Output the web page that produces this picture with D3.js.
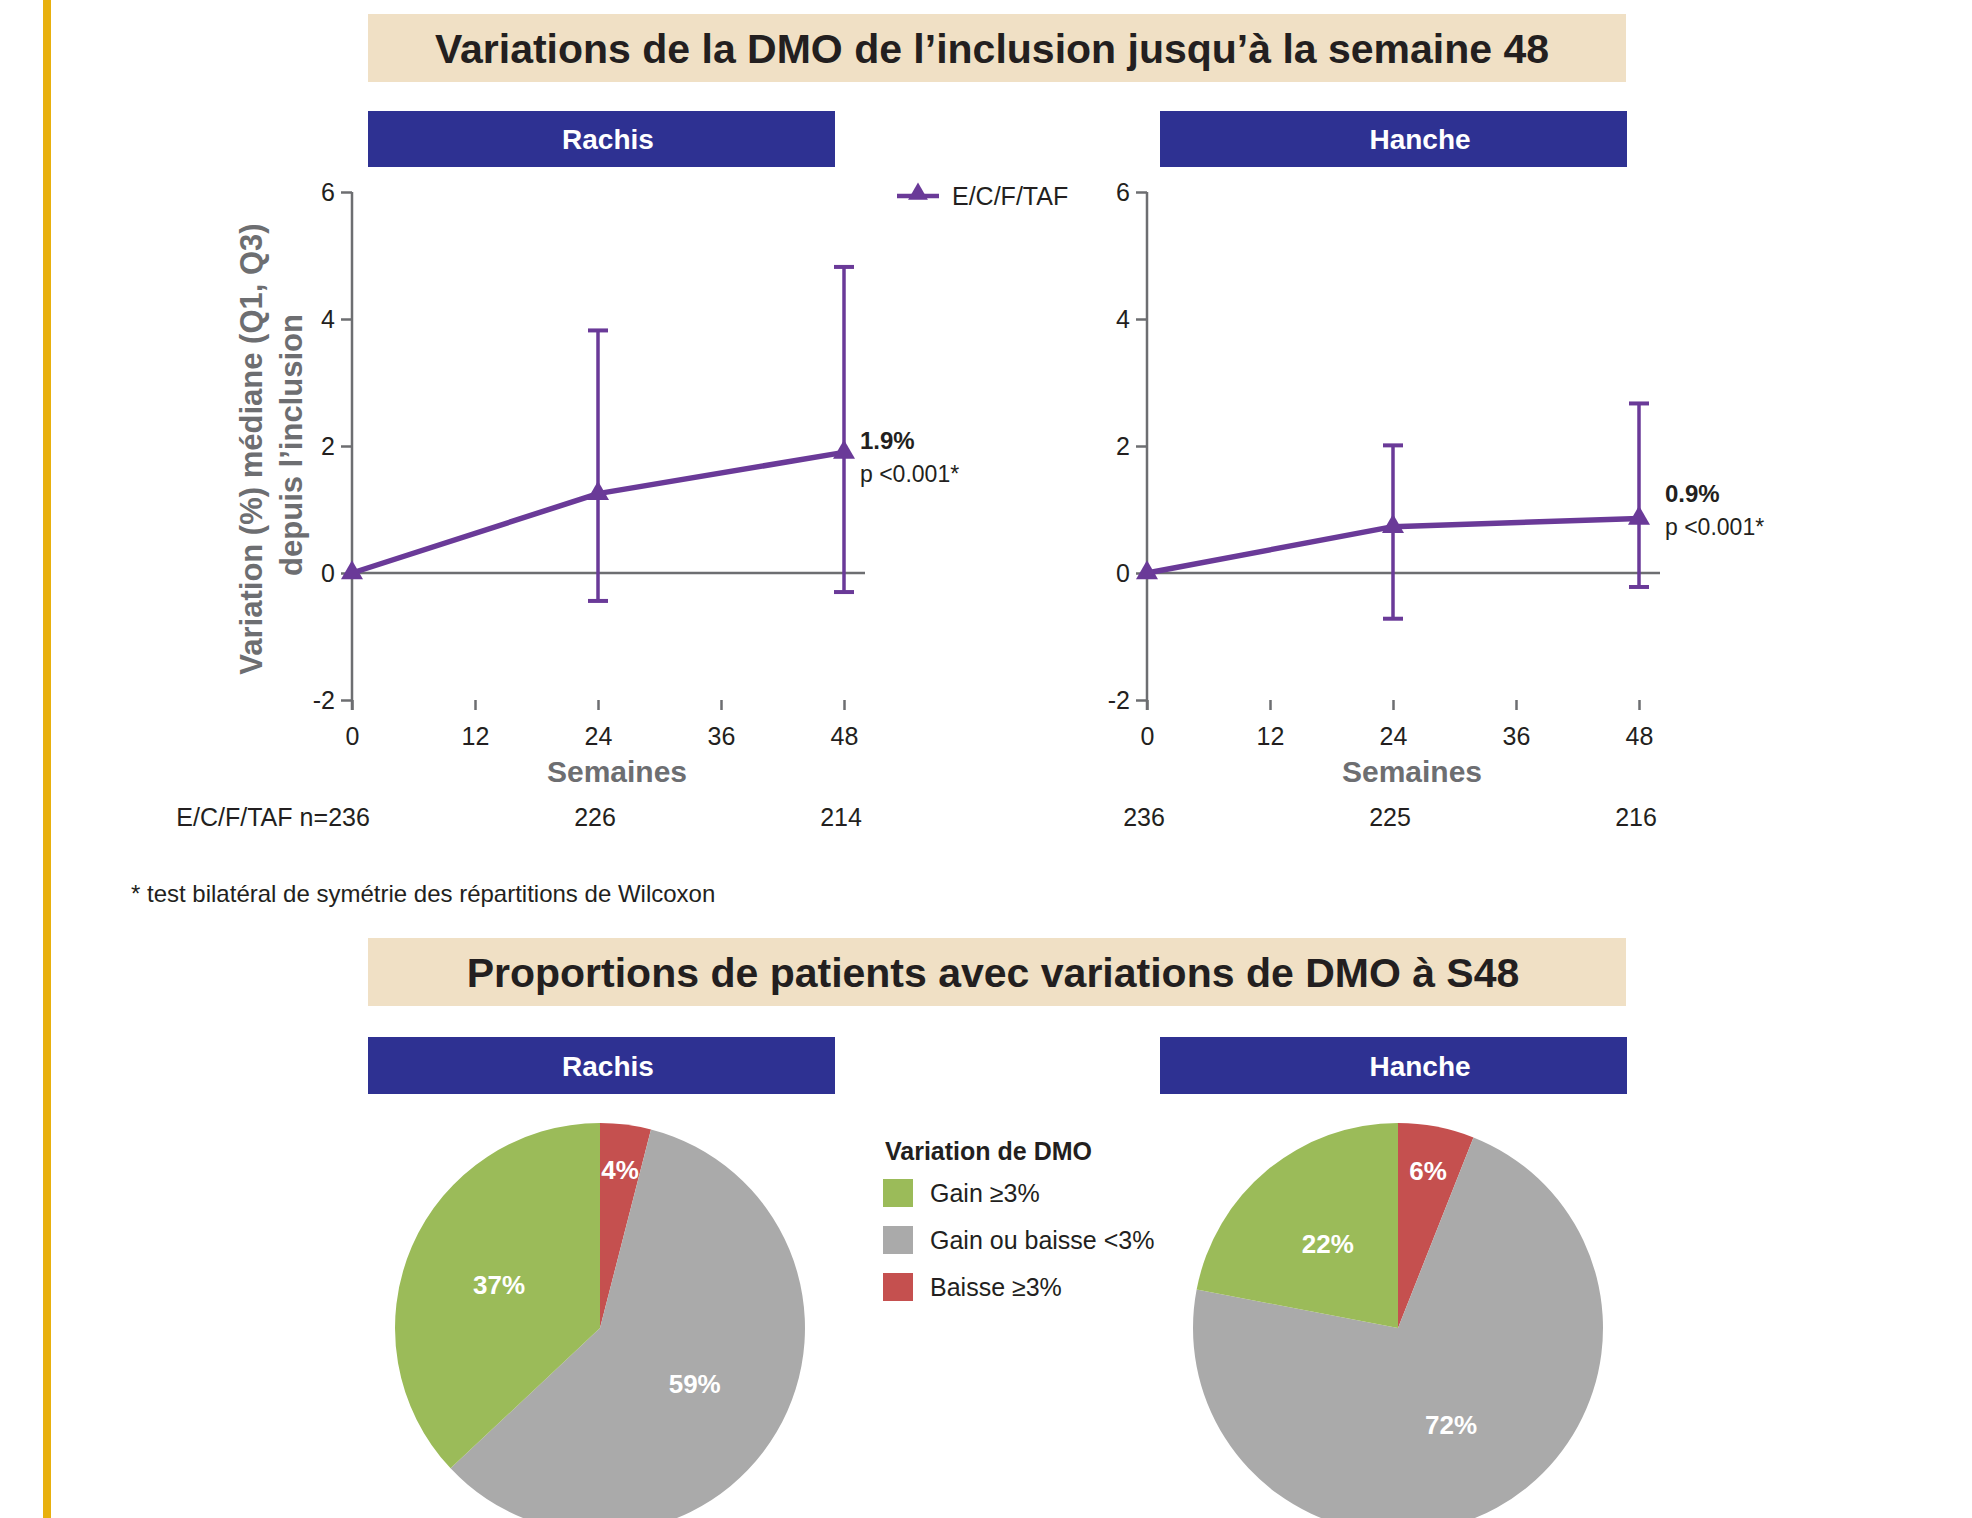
<!DOCTYPE html>
<html>
<head>
<meta charset="utf-8">
<script src="https://cdn.jsdelivr.net/npm/d3@7"></script>
<style>
  body { margin: 0; background: #fff; }
  svg { display: block; }
</style>
</head>
<body>
<div id="chart"></div>
<script>
// values
const weeks = [0, 24, 48];
const xTicks = [0, 12, 24, 36, 48];
const yTicks = [-2, 0, 2, 4, 6];

const spineMedian = [0, 1.25, 1.9];
const spineQ1 = [0, -0.44, -0.30];
const spineQ3 = [0, 3.82, 4.82];
const spineN = [236, 226, 214];

const hipMedian = [0, 0.73, 0.86];
const hipQ1 = [0, -0.72, -0.22];
const hipQ3 = [0, 2.01, 2.67];
const hipN = [236, 225, 216];

const pieCategories = ["Gain ≥3%", "Gain ou baisse <3%", "Baisse ≥3%"];
const pieColors = ["#9bbb59", "#aaaaaa", "#c5504f"];
const spinePie = [37, 59, 4];
const hipPie = [22, 72, 6];

const FONT = '"Liberation Sans", Arial, Helvetica, sans-serif';
const PURPLE = "#6a3a98", GREY = "#6d6e71", INK = "#231f20", NAVY = "#2e3192", BEIGE = "#f0e0c5";

const svg = d3.select("#chart").append("svg")
    .attr("width", 1972)
    .attr("height", 1518)
    .attr("font-family", FONT);

svg.append("rect").attr("width", 1972).attr("height", 1518).attr("fill", "#fff");
// yellow page rule on the left
svg.append("rect").attr("x", 43).attr("y", 0).attr("width", 8).attr("height", 1518).attr("fill", "#e8b00e");

// 1. Banners (section titles and panel headers)
function banner(x, y, w, h, fill, label, tx, size, color) {
    svg.append("rect").attr("x", x).attr("y", y).attr("width", w).attr("height", h).attr("fill", fill);
    svg.append("text")
        .attr("x", tx).attr("y", y + h / 2)
        .attr("dy", "0.36em")
        .attr("text-anchor", "middle")
        .attr("font-size", size)
        .attr("font-weight", "bold")
        .attr("fill", color)
        .text(label);
}

banner(368, 14, 1258, 68, BEIGE, "Variations de la DMO de l’inclusion jusqu’à la semaine 48", 992, 41, INK);
banner(368, 111, 467, 56, NAVY, "Rachis", 608, 28, "#fff");
banner(1160, 111, 467, 56, NAVY, "Hanche", 1420, 28, "#fff");
banner(368, 938, 1258, 68, BEIGE, "Proportions de patients avec variations de DMO à S48", 993, 41, INK);
banner(368, 1037, 467, 57, NAVY, "Rachis", 608, 28, "#fff");
banner(1160, 1037, 467, 57, NAVY, "Hanche", 1420, 28, "#fff");

// 2. Line charts with Q1-Q3 whiskers
function drawLineChart(x0, x1, median, q1, q3, nCounts, opts) {
    const x = d3.scaleLinear().domain([0, 48]).range([x0, x1]);
    const y = d3.scaleLinear().domain([-2, 6]).range([700, 192]);
    const g = svg.append("g");

    // y axis: ticks to the left, spine runs a bit below -2
    const yAxis = g.append("g")
        .attr("transform", `translate(${x0},0)`)
        .call(d3.axisLeft(y).tickValues(yTicks).tickSize(11).tickPadding(6).tickFormat(d => String(d)))
        .attr("font-family", FONT);
    yAxis.select(".domain").remove();
    yAxis.selectAll("line").attr("stroke", GREY).attr("stroke-width", 2.5);
    yAxis.selectAll("text").attr("font-size", 25).attr("fill", INK);

    g.append("line")
        .attr("x1", x0).attr("x2", x0)
        .attr("y1", y(6)).attr("y2", y(-2) + 10)
        .attr("stroke", GREY).attr("stroke-width", 2.5);

    // x axis: only small marks under the plot, no baseline
    const xAxis = g.append("g")
        .attr("transform", `translate(0,${y(-2)})`)
        .call(d3.axisBottom(x).tickValues(xTicks).tickSize(10).tickPadding(17))
        .attr("font-family", FONT);
    xAxis.select(".domain").remove();
    xAxis.selectAll("line").attr("stroke", GREY).attr("stroke-width", 2.5);
    xAxis.selectAll("text").attr("font-size", 25).attr("fill", INK);

    // zero reference line
    g.append("line")
        .attr("x1", x0).attr("x2", x1 + 21)
        .attr("y1", y(0)).attr("y2", y(0))
        .attr("stroke", GREY).attr("stroke-width", 2.5);

    const pts = weeks.map((w, i) => ({ w, m: median[i], lo: q1[i], hi: q3[i] }));
    const bars = pts.filter(d => d.hi !== d.lo);

    // whiskers
    g.selectAll(".whisker").data(bars).enter().append("line")
        .attr("x1", d => x(d.w)).attr("x2", d => x(d.w))
        .attr("y1", d => y(d.lo)).attr("y2", d => y(d.hi))
        .attr("stroke", PURPLE).attr("stroke-width", 3.5);
    [d => d.lo, d => d.hi].forEach(acc => {
        g.selectAll(null).data(bars).enter().append("line")
            .attr("x1", d => x(d.w) - 10).attr("x2", d => x(d.w) + 10)
            .attr("y1", d => y(acc(d))).attr("y2", d => y(acc(d)))
            .attr("stroke", PURPLE).attr("stroke-width", 4);
    });

    // median line
    g.append("path")
        .datum(pts)
        .attr("fill", "none")
        .attr("stroke", PURPLE)
        .attr("stroke-width", 5.5)
        .attr("stroke-linejoin", "round")
        .attr("d", d3.line().x(d => x(d.w)).y(d => y(d.m)));

    g.selectAll(".marker").data(pts).enter().append("path")
        .attr("transform", d => `translate(${x(d.w)},${y(d.m)})`)
        .attr("d", d3.symbol(d3.symbolTriangle, 210))
        .attr("fill", PURPLE);

    // end-point annotation
    const last = pts[pts.length - 1];
    const ax = x(last.w) + opts.annoDx, ay = y(last.m) + opts.annoDy;
    g.append("text")
        .attr("x", ax).attr("y", ay).attr("dy", "0.36em")
        .attr("font-size", 24).attr("font-weight", "bold").attr("fill", INK)
        .text(d3.format(".1f")(last.m) + "%");
    g.append("text")
        .attr("x", ax).attr("y", ay + 33).attr("dy", "0.36em")
        .attr("font-size", 23).attr("fill", INK)
        .text("p <0.001*");

    // x title
    g.append("text")
        .attr("x", (x0 + x1) / 2 + 19).attr("y", 771).attr("dy", "0.36em")
        .attr("text-anchor", "middle")
        .attr("font-size", 30).attr("font-weight", "bold").attr("fill", GREY)
        .text("Semaines");

    // patient counts under each time point
    g.selectAll(".ncount").data(nCounts).enter().append("text")
        .attr("x", (d, i) => x(weeks[i]) - 3).attr("y", 817).attr("dy", "0.36em")
        .attr("text-anchor", "middle")
        .attr("font-size", 25).attr("fill", INK)
        .text(d => d);

    return x;
}

const xSpine = drawLineChart(352, 844, spineMedian, spineQ1, spineQ3, spineN, { annoDx: 16, annoDy: -12 });
drawLineChart(1147, 1639, hipMedian, hipQ1, hipQ3, hipN, { annoDx: 26, annoDy: -25 });

// row label for counts
svg.append("text")
    .attr("x", xSpine(0) - 24).attr("y", 817).attr("dy", "0.36em")
    .attr("text-anchor", "end")
    .attr("font-size", 25).attr("fill", INK)
    .text("E/C/F/TAF n=");

// y axis title (two lines, rotated)
[["Variation (%) médiane (Q1, Q3)", 251, 449], ["depuis l’inclusion", 291, 445]].forEach(([t, cx, cy]) => {
    svg.append("text")
        .attr("transform", `translate(${cx},${cy}) rotate(-90)`)
        .attr("dy", "0.36em")
        .attr("text-anchor", "middle")
        .attr("font-size", 31).attr("font-weight", "bold").attr("fill", GREY)
        .text(t);
});

// series legend
svg.append("line").attr("x1", 897).attr("x2", 939).attr("y1", 196).attr("y2", 196)
    .attr("stroke", PURPLE).attr("stroke-width", 4.5);
svg.append("path").attr("transform", "translate(918,194)")
    .attr("d", d3.symbol(d3.symbolTriangle, 170)).attr("fill", PURPLE);
svg.append("text").attr("x", 952).attr("y", 196).attr("dy", "0.36em")
    .attr("font-size", 25).attr("fill", INK).text("E/C/F/TAF");

// footnote
svg.append("text").attr("x", 131).attr("y", 893).attr("dy", "0.36em")
    .attr("font-size", 24).attr("fill", INK)
    .text("* test bilatéral de symétrie des répartitions de Wilcoxon");

// 3. Pies: start at noon, clockwise red -> grey -> green
function drawPie(cx, cy, values) {
    const r = 205;
    const order = [2, 1, 0];
    const arcs = d3.pie().sort(null).value(i => values[i])(order);
    const arc = d3.arc().innerRadius(0).outerRadius(r);
    const g = svg.append("g").attr("transform", `translate(${cx},${cy})`);

    g.selectAll("path").data(arcs).enter().append("path")
        .attr("d", arc)
        .attr("fill", d => pieColors[d.data]);

    // small slices get their label near the rim, big ones near the middle
    g.selectAll("text").data(arcs).enter().append("text")
        .attr("transform", d => {
            const lr = values[d.data] < 10 ? 160 : 110;
            return `translate(${d3.arc().innerRadius(lr).outerRadius(lr).centroid(d)})`;
        })
        .attr("dy", "0.36em")
        .attr("text-anchor", "middle")
        .attr("font-size", 26).attr("font-weight", "bold").attr("fill", "#fff")
        .text(d => values[d.data] + "%");
}

drawPie(600, 1328, spinePie);
drawPie(1398, 1328, hipPie);

// pie legend
svg.append("text").attr("x", 885).attr("y", 1151).attr("dy", "0.36em")
    .attr("font-size", 25).attr("font-weight", "bold").attr("fill", INK)
    .text("Variation de DMO");
const leg = svg.selectAll(".leg").data(pieCategories).enter().append("g")
    .attr("transform", (d, i) => `translate(883,${1179 + i * 47})`);
leg.append("rect").attr("width", 30).attr("height", 28).attr("fill", (d, i) => pieColors[i]);
leg.append("text").attr("x", 47).attr("y", 14).attr("dy", "0.36em")
    .attr("font-size", 25).attr("fill", INK)
    .text(d => d);
</script>
</body>
</html>
